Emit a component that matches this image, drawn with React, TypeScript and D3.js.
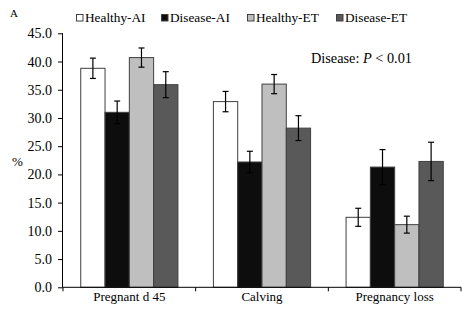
import React, { useEffect, useRef } from "react";
import * as d3 from "d3";

const categories = ["Pregnant d 45", "Calving", "Pregnancy loss"];
const seriesNames = ["Healthy-AI", "Disease-AI", "Healthy-ET", "Disease-ET"];
const healthyAI = [38.8, 32.9, 12.4];
const diseaseAI = [31.0, 22.2, 21.3];
const healthyET = [40.7, 36.0, 11.1];
const diseaseET = [35.9, 28.2, 22.3];
const healthyAIErr = [1.8, 1.8, 1.6];
const diseaseAIErr = [2.0, 1.9, 3.1];
const healthyETErr = [1.7, 1.7, 1.5];
const diseaseETErr = [2.3, 2.2, 3.4];
const yTicks = [0, 5, 10, 15, 20, 25, 30, 35, 40, 45];

const fills = ["#ffffff", "#0d0d0d", "#bfbfbf", "#595959"];
const legendX = [76, 161, 247, 336];
const font = "Liberation Serif";

const W = 462;
const H = 312;
const margin = { top: 33.3, right: 1, bottom: 24.7, left: 63 };

const App = () => {
  const ref = useRef<SVGSVGElement>(null);

  useEffect(() => {
    const svg = d3.select(ref.current);
    svg.selectAll("*").remove();

    const values = [healthyAI, diseaseAI, healthyET, diseaseET];
    const errs = [healthyAIErr, diseaseAIErr, healthyETErr, diseaseETErr];

    const x0 = d3
      .scaleBand<string>()
      .domain(categories)
      .range([margin.left, W - margin.right])
      .padding(0);
    const x1 = d3
      .scaleBand<string>()
      .domain(seriesNames)
      .range([0, x0.bandwidth()])
      .paddingInner(0)
      .paddingOuter(0.73);
    const y = d3
      .scaleLinear()
      .domain([0, 45])
      .range([H - margin.bottom, margin.top]);

    const rows = categories.flatMap((c, ci) =>
      seriesNames.map((s, si) => ({
        c,
        s,
        si,
        v: values[si][ci],
        e: errs[si][ci],
      }))
    );

    // bars
    svg
      .append("g")
      .selectAll("rect")
      .data(rows)
      .enter()
      .append("rect")
      .attr("x", (d) => x0(d.c)! + x1(d.s)!)
      .attr("y", (d) => y(d.v))
      .attr("width", x1.bandwidth())
      .attr("height", (d) => y(0) - y(d.v))
      .attr("fill", (d) => fills[d.si])
      .attr("stroke", "#404040")
      .attr("stroke-width", 1);

    // error bars
    const eg = svg
      .append("g")
      .attr("stroke", "#000")
      .attr("stroke-width", 1.2);
    rows.forEach((d) => {
      const cx = x0(d.c)! + x1(d.s)! + x1.bandwidth() / 2;
      eg.append("line")
        .attr("x1", cx)
        .attr("x2", cx)
        .attr("y1", y(d.v + d.e))
        .attr("y2", y(d.v - d.e));
      [d.v + d.e, d.v - d.e].forEach((v) =>
        eg
          .append("line")
          .attr("x1", cx - 3)
          .attr("x2", cx + 3)
          .attr("y1", y(v))
          .attr("y2", y(v))
      );
    });

    // y axis
    const yAxis = svg
      .append("g")
      .attr("transform", `translate(${margin.left},0)`)
      .call(
        d3
          .axisLeft(y)
          .tickValues(yTicks)
          .tickFormat(d3.format(".1f"))
          .tickSize(5)
          .tickPadding(6)
      )
      .attr("font-family", font)
      .attr("font-size", 14);
    yAxis.select(".domain").attr("d", `M-0.5,${y(45)}V${y(0)}`).attr("stroke", "#000");
    yAxis.selectAll("line").attr("stroke", "#000");
    yAxis.selectAll("text").attr("fill", "#000");

    // x axis
    const xg = svg.append("g").attr("stroke", "#000");
    xg.append("line")
      .attr("x1", margin.left)
      .attr("x2", W - margin.right)
      .attr("y1", y(0))
      .attr("y2", y(0));
    const bounds = categories.map((c) => x0(c)!).concat([x0.range()[1]]);
    bounds.forEach((bx) =>
      xg
        .append("line")
        .attr("x1", bx)
        .attr("x2", bx)
        .attr("y1", y(0))
        .attr("y2", y(0) + 4)
    );
    svg
      .append("g")
      .selectAll("text")
      .data(categories)
      .enter()
      .append("text")
      .attr("x", (c) => x0(c)! + x0.bandwidth() / 2)
      .attr("y", 301)
      .attr("text-anchor", "middle")
      .attr("font-family", font)
      .attr("font-size", 13)
      .text((c) => c);

    // legend
    const lg = svg.append("g");
    seriesNames.forEach((s, i) => {
      lg.append("rect")
        .attr("x", legendX[i] + 0.5)
        .attr("y", 14.5)
        .attr("width", 6.5)
        .attr("height", 6.5)
        .attr("fill", fills[i])
        .attr("stroke", "#404040");
      lg.append("text")
        .attr("x", legendX[i] + 9)
        .attr("y", 21.5)
        .attr("font-family", font)
        .attr("font-size", 13.3)
        .text(s);
    });

    // annotations
    svg
      .append("text")
      .attr("x", 10)
      .attr("y", 17)
      .attr("font-family", font)
      .attr("font-size", 11)
      .text("A");
    svg
      .append("text")
      .attr("x", 12)
      .attr("y", 166)
      .attr("font-family", font)
      .attr("font-size", 13)
      .text("%");
    const p = svg
      .append("text")
      .attr("x", 311)
      .attr("y", 63)
      .attr("font-family", font)
      .attr("font-size", 14.3);
    p.append("tspan").text("Disease: ");
    p.append("tspan").attr("font-style", "italic").text("P");
    p.append("tspan").text(" < 0.01");
  }, []);

  return (
    <svg
      ref={ref}
      width={W}
      height={H}
      style={{ position: "absolute", left: 0, top: 0, background: "#fff" }}
    />
  );
};

export default App;
